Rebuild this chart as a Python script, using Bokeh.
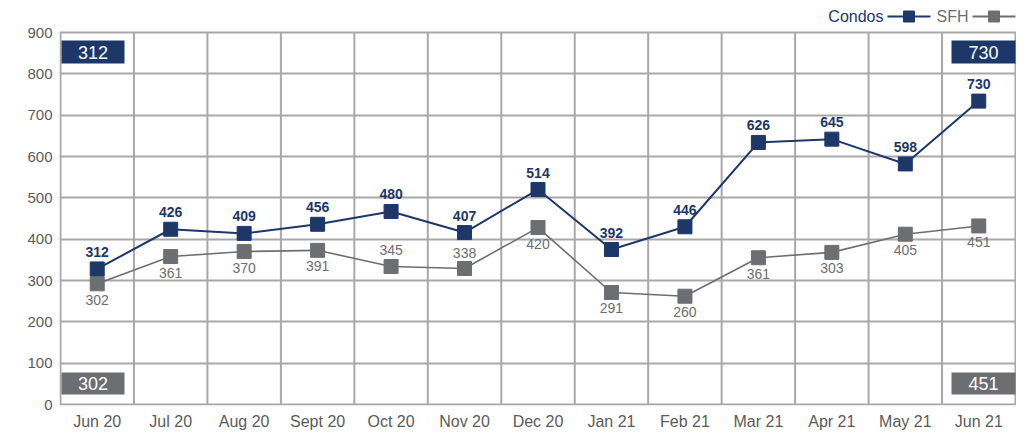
from bokeh.plotting import figure
from bokeh.models import (Range1d, FixedTicker, BoxAnnotation, Label,
                          ColumnDataSource)
from bokeh.embed import file_html
from bokeh.resources import INLINE

months = ["Jun 20", "Jul 20", "Aug 20", "Sept 20", "Oct 20", "Nov 20", "Dec 20",
          "Jan 21", "Feb 21", "Mar 21", "Apr 21", "May 21", "Jun 21"]
condos = [328, 424, 414, 436, 467, 416, 520, 375, 430, 634, 642, 582, 734]
sfh = [292, 358, 370, 373, 334, 329, 428, 271, 262, 355, 368, 412, 432]
condo_labels = ["312", "426", "409", "456", "480", "407", "514", "392", "446",
                "626", "645", "598", "730"]
sfh_labels = ["302", "361", "370", "391", "345", "338", "420", "291", "260",
              "361", "303", "405", "451"]
sfh_label_above = [False, False, False, False, True, True, False, False, False,
                   False, False, False, False]
y_ticks = [0, 100, 200, 300, 400, 500, 600, 700, 800, 900]
condo_first, condo_last = "312", "730"
sfh_first, sfh_last = "302", "451"
series_names = ["Condos", "SFH"]

NAVY = "#1d3868"
GREY = "#6d6e71"
GRID = "#a8a8a8"
TICK = "#5a5b5d"
FONT = "Liberation Sans"

n = len(months)
xs = [i + 0.5 for i in range(n)]
y_max = y_ticks[-1]
# frame spans page y 0..405; value 0 at 404, value 900 at 32
ppu = 372 / y_max
y_top = y_max + 32 / ppu
y_bot = -1 / ppu
x_pad = 0.0136
x_ppu = 957 / (n + 2 * x_pad)


def px_x(px):   # page pixel -> data x (frame left at page 59)
    return (px - 59) / x_ppu - x_pad


def px_y(py):   # page pixel -> data y
    return (404 - py) / ppu


src = ColumnDataSource(dict(
    x=xs, condos=condos, sfh=sfh, clab=condo_labels, slab=sfh_labels,
    soff=[-16 if a else 16 for a in sfh_label_above],
))

p = figure(width=1016, height=432, output_backend="svg", toolbar_location=None,
           x_range=Range1d(-x_pad, n + x_pad), y_range=Range1d(y_bot, y_top),
           min_border_left=59, min_border_right=0, min_border_top=0,
           min_border_bottom=27)
p.outline_line_color = None
p.background_fill_color = "white"
p.border_fill_color = "white"

# grid: horizontal lines across, vertical lines between months up to 900
p.xgrid.visible = False
p.ygrid.ticker = FixedTicker(ticks=y_ticks)
p.ygrid.grid_line_color = GRID
p.ygrid.grid_line_width = 2
bounds = list(range(n + 1))
p.segment(x0=bounds, y0=[0] * len(bounds), x1=bounds, y1=[y_max] * len(bounds),
          line_color=GRID, line_width=2)

p.xaxis.ticker = FixedTicker(ticks=xs)
p.xaxis.major_label_overrides = {x: m for x, m in zip(xs, months)}
p.yaxis.ticker = FixedTicker(ticks=y_ticks)
for ax in (p.xaxis, p.yaxis):
    ax.axis_line_color = None
    ax.major_tick_line_color = None
    ax.minor_tick_line_color = None
    ax.major_tick_out = 0
    ax.major_tick_in = 0
    ax.minor_tick_out = 0
    ax.major_label_text_color = TICK
    ax.major_label_text_font = FONT
p.xaxis.major_label_text_font_size = "16px"
p.yaxis.major_label_text_font_size = "15px"
p.xaxis.major_label_standoff = 7
p.yaxis.major_label_standoff = 7

# corner boxes
boxes = [
    (px_x(61), px_x(124), px_y(40), px_y(63), NAVY, condo_first),
    (px_x(951), px_x(1015), px_y(40), px_y(63), NAVY, condo_last),
    (px_x(61), px_x(124), px_y(372), px_y(394), GREY, sfh_first),
    (px_x(951), px_x(1015), px_y(372), px_y(394), GREY, sfh_last),
]
for l, r, t, b, c, txt in boxes:
    p.add_layout(BoxAnnotation(left=l, right=r, top=t, bottom=b, fill_color=c,
                               fill_alpha=1, line_color=None))
    p.add_layout(Label(x=(l + r) / 2, y=(t + b) / 2, text=txt,
                       text_color="white", text_font=FONT,
                       text_font_size="18px", text_align="center",
                       text_baseline="middle"))

# series
p.line("x", "sfh", source=src, line_color=GREY, line_width=1.6)
p.scatter("x", "sfh", source=src, marker="square", size=14,
          fill_color=GREY, line_color=GREY)
p.line("x", "condos", source=src, line_color=NAVY, line_width=2)
p.scatter("x", "condos", source=src, marker="square", size=14,
          fill_color=NAVY, line_color=NAVY)

p.text("x", "condos", text="clab", source=src, y_offset=-17,
       text_color=NAVY, text_font_size="14px", text_font={"value": FONT},
       text_font_style="bold", text_align="center", text_baseline="middle")
p.text("x", "sfh", text="slab", source=src, y_offset="soff",
       text_color=GREY, text_font_size="14px", text_font={"value": FONT},
       text_align="center", text_baseline="middle")

# legend: name text followed by line+square key, in top strip
ly = px_y(16)
for name, col, text_right, k0, k1 in ((series_names[0], NAVY, 883, 887, 930),
                                      (series_names[1], GREY, 968, 972, 1015)):
    p.text(x=[px_x(text_right)], y=[ly], text=[name], text_color=col,
           text_font={"value": FONT}, text_font_size="16px",
           text_align="right", text_baseline="middle")
    p.line(x=[px_x(k0), px_x(k1)], y=[ly, ly], line_color=col, line_width=2)
    p.scatter(x=[px_x((k0 + k1) / 2)], y=[ly], marker="square", size=11,
              fill_color=col, line_color=col)

open("out.html", "w").write(file_html(p, INLINE))
